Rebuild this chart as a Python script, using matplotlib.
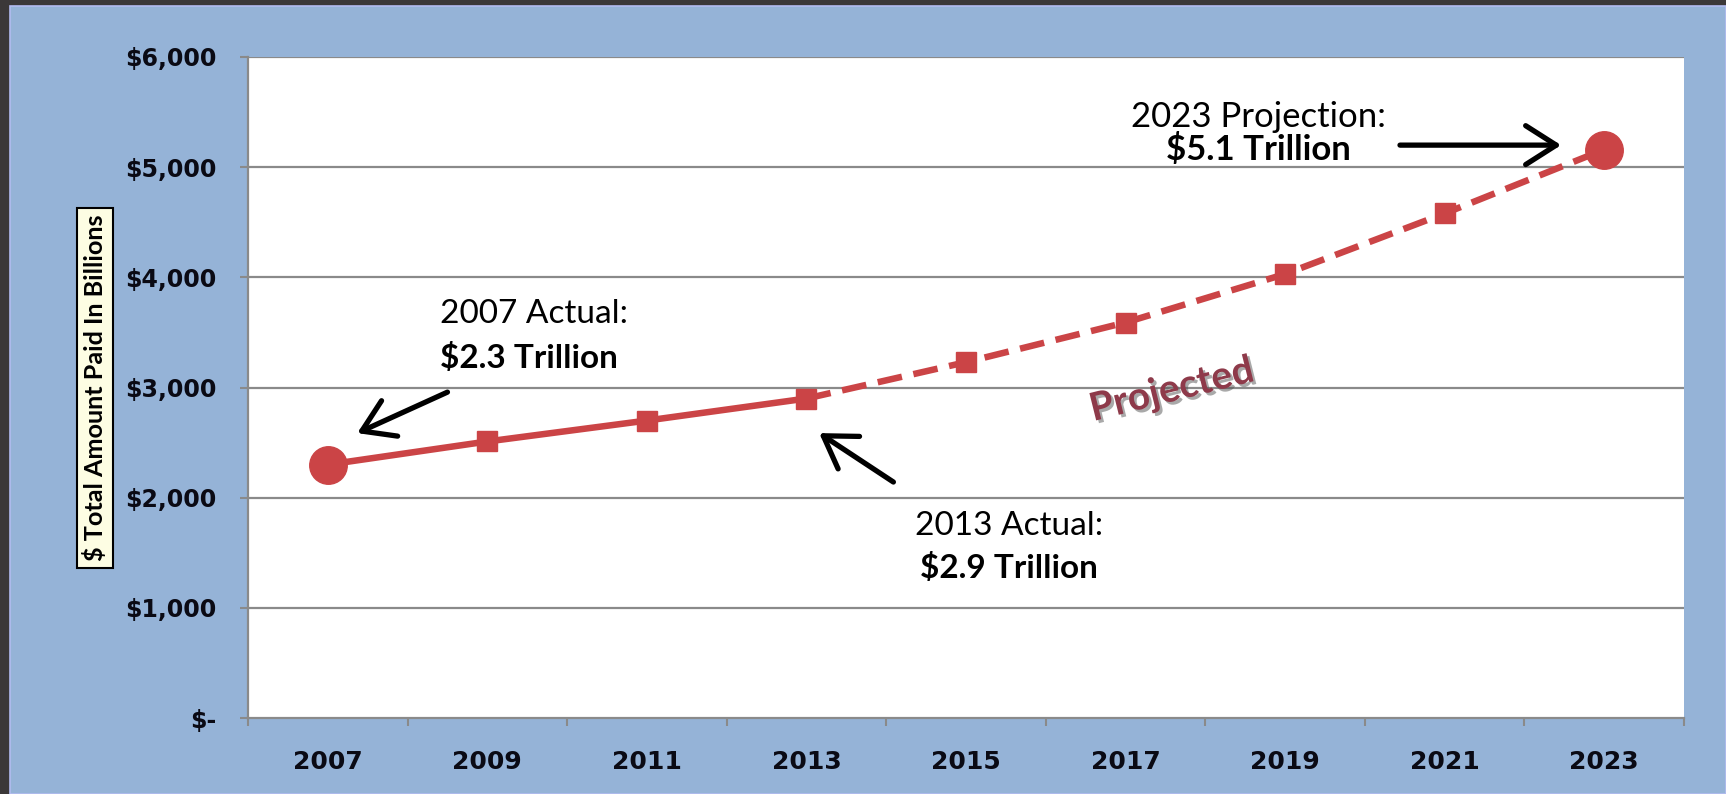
import matplotlib
matplotlib.use("Agg")
from matplotlib import pyplot as plt
from matplotlib import patheffects
from matplotlib.patches import Rectangle
from matplotlib.ticker import FixedLocator, FuncFormatter

years = ['2007', '2009', '2011', '2013', '2015', '2017', '2019', '2021', '2023']
amounts = [2300, 2510, 2700, 2900, 3230, 3590, 4030, 4580, 5160]
last_actual = 3  # index of 2013, after that the series is projected
y_ticks = [0, 1000, 2000, 3000, 4000, 5000, 6000]

red = '#cb4446'
grid_gray = '#8a8a8a'
panel_blue = '#95b3d7'

fig = plt.figure(figsize=(17.26, 7.94), dpi=100)
fig.patch.set_facecolor('#3b3838')
# light blue slide panel with a dark frame on top and left
fig.patches.append(Rectangle((10 / 1726, 0), 1 - 10 / 1726, 1 - 6 / 794,
                             transform=fig.transFigure, facecolor=panel_blue,
                             edgecolor='#b3bcf0', linewidth=1.2, zorder=-10))

ax = fig.add_axes([248 / 1726, 76 / 794, 1436 / 1726, 661 / 794])
ax.set_zorder(1)
ax.set_facecolor('white')

x = list(range(len(years)))

# Actual values: solid, projected: dashed
ax.plot(x[:last_actual + 1], amounts[:last_actual + 1], color=red, lw=4.7,
        solid_capstyle='round', zorder=3)
ax.plot(x[last_actual:], amounts[last_actual:], color=red, lw=4.7,
        dashes=(3.8, 1.8), zorder=3)
ax.plot(x[1:-1], amounts[1:-1], ls='none', marker='s', ms=14, color=red, zorder=4)
ax.plot([x[0], x[-1]], [amounts[0], amounts[-1]], ls='none', marker='o', ms=27,
        color=red, zorder=5)

ax.set_xlim(-0.5, len(years) - 0.5)
ax.set_ylim(0, 6000)

for v in y_ticks[1:]:
    ax.axhline(v, color=grid_gray, lw=1.6, zorder=1)

ax.set_yticks(y_ticks)
ax.yaxis.set_major_formatter(FuncFormatter(lambda v, p: '$-' if v == 0 else '${:,.0f}'.format(v)))
ax.tick_params(axis='y', length=6, width=1.5, color=grid_gray, pad=17,
               labelsize=17, direction='out')
ax.set_xticks(x)
ax.set_xticklabels(years)
ax.tick_params(axis='x', which='major', length=0, pad=23, labelsize=18)
ax.xaxis.set_minor_locator(FixedLocator([i - 0.5 for i in range(len(years) + 1)]))
ax.tick_params(axis='x', which='minor', length=6, width=1.5, color=grid_gray, direction='out')
for lab in ax.get_xticklabels() + ax.get_yticklabels():
    lab.set_fontweight('bold')
    lab.set_color('#0a0a14')

for s in ['top', 'right']:
    ax.spines[s].set_visible(False)
for s in ['left', 'bottom']:
    ax.spines[s].set_color(grid_gray)
    ax.spines[s].set_linewidth(1.6)

# Callouts
afont = dict(family='Lato', fontsize=24, color='black')
arrow = dict(arrowstyle='->,head_length=0.55,head_width=0.35', color='black',
             lw=3.8, mutation_scale=40, shrinkA=0, shrinkB=0)

ax.text(0.706, 3584, '2007 Actual:', ha='left', va='baseline', **afont)
ax.text(0.706, 3176, '$2.3 Trillion', ha='left', va='baseline', fontweight='bold', **afont)
ax.annotate('', xy=(0.185, 2586), xytext=(0.75, 2958), arrowprops=arrow, zorder=6)

ax.text(4.27, 1661, '2013 Actual:', ha='center', va='baseline', **afont)
ax.text(4.27, 1270, '$2.9 Trillion', ha='center', va='baseline', fontweight='bold', **afont)
ax.annotate('', xy=(3.08, 2586), xytext=(3.545, 2142), arrowprops=arrow, zorder=6)

ax.text(5.83, 5363, '2023 Projection:', ha='center', va='baseline', fontsize=25,
        family='Lato', color='black')
ax.text(5.83, 5063, '$5.1 Trillion', ha='center', va='baseline', fontweight='bold',
        fontsize=25, family='Lato', color='black')
ax.annotate('', xy=(7.73, 5200), xytext=(6.72, 5200), arrowprops=arrow, zorder=6)

ax.text(5.29, 2980, 'Projected', ha='center', va='center', rotation=14,
        family='Lato', fontweight='bold', fontsize=28, color='#8e3a4a',
        path_effects=[patheffects.withSimplePatchShadow(offset=(2, -2), shadow_rgbFace='#555555',
                                                        alpha=0.5)])

fig.text(95 / 1726, 1 - 388 / 794, '$ Total Amount Paid In Billions', rotation=90,
         ha='center', va='center', family='Lato', fontweight='bold', fontsize=18.2,
         bbox=dict(boxstyle='square,pad=0.25', facecolor='#fdfde3', edgecolor='black', lw=1.5))

plt.savefig('out.png', dpi=100, facecolor=fig.get_facecolor())
